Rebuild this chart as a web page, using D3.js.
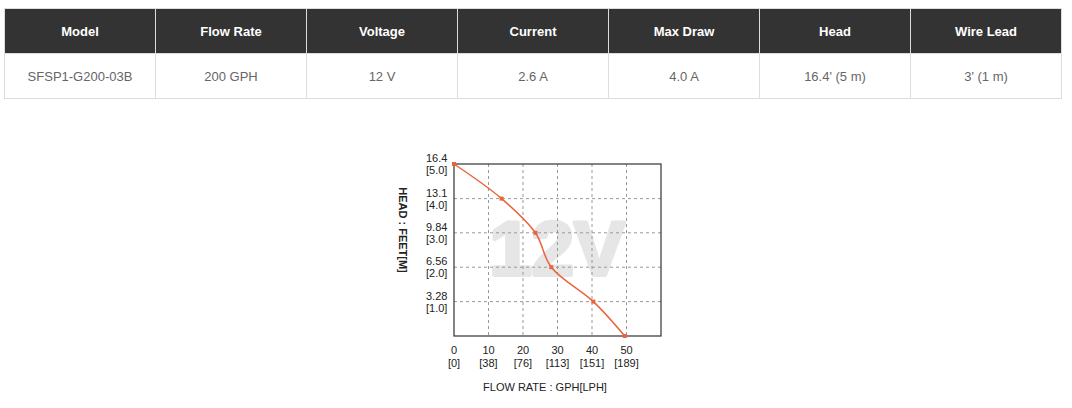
<!DOCTYPE html>
<html>
<head>
<meta charset="UTF-8">
<script src="https://d3js.org/d3.v7.min.js"></script>
<style>
body { margin: 0; background: #fff; font-family: "Liberation Sans", Arial, sans-serif; }
table { position: absolute; left: 4px; top: 8px; width: 1058px; border-collapse: collapse; table-layout: fixed; }
th { background: #333; color: #fff; font-size: 13px; font-weight: bold; height: 44px; padding: 0; border: 1px solid #ddd; }
td { color: #666; font-size: 13px; text-align: center; height: 44px; padding: 0; border: 1px solid #ddd; }
svg { position: absolute; left: 0; top: 0; font-family: "Liberation Sans", Arial, sans-serif; }
</style>
</head>
<body>
<table id="spec"></table>
<svg width="1072" height="408"></svg>
<script>
var headers = ["Model", "Flow Rate", "Voltage", "Current", "Max Draw", "Head", "Wire Lead"];
var values = ["SFSP1-G200-03B", "200 GPH", "12 V", "2.6 A", "4.0 A", "16.4' (5 m)", "3' (1 m)"];

var flowGph = [0, 13.8, 23.6, 28.2, 40.4, 49.5];
var headFt = [16.4, 13.1, 9.84, 6.56, 3.28, 0];
var xTicks = [0, 10, 20, 30, 40, 50];
var xTickLph = ["[0]", "[38]", "[76]", "[113]", "[151]", "[189]"];
var yTicks = [16.4, 13.1, 9.84, 6.56, 3.28];
var yTickM = ["[5.0]", "[4.0]", "[3.0]", "[2.0]", "[1.0]"];

var t = d3.select("#spec");
t.append("tr").selectAll("th").data(headers).enter().append("th").text(d => d);
t.append("tr").selectAll("td").data(values).enter().append("td").text(d => d);

var svg = d3.select("svg");
var x = d3.scaleLinear().domain([0, 60]).range([454, 661]);
var y = d3.scaleLinear().domain([0, 16.4]).range([336, 164]);

svg.append("text").attr("x", 557).attr("y", 275).attr("text-anchor", "middle")
  .attr("font-size", 76).attr("font-weight", "bold").attr("fill", "#e6e6e6")
  .attr("stroke", "#e6e6e6").attr("stroke-width", 4).attr("stroke-linejoin", "round").text("12V");

var g = svg.append("g");
g.selectAll(".vg").data(xTicks.slice(1)).enter().append("line")
  .attr("x1", d => x(d)).attr("x2", d => x(d)).attr("y1", y(16.4)).attr("y2", y(0))
  .attr("stroke", "#999").attr("stroke-dasharray", "3,3");
g.selectAll(".hg").data(yTicks.slice(1)).enter().append("line")
  .attr("y1", d => y(d)).attr("y2", d => y(d)).attr("x1", x(0)).attr("x2", x(60))
  .attr("stroke", "#999").attr("stroke-dasharray", "3,3");
g.append("rect").attr("x", x(0)).attr("y", y(16.4)).attr("width", x(60) - x(0))
  .attr("height", y(0) - y(16.4)).attr("fill", "none").attr("stroke", "#333").attr("stroke-width", 1.2);

var pts = flowGph.map((f, i) => [f, headFt[i]]);
g.append("path").datum(pts)
  .attr("d", d3.line().x(d => x(d[0])).y(d => y(d[1])).curve(d3.curveCatmullRom))
  .attr("fill", "none").attr("stroke", "#e8643c").attr("stroke-width", 1.5);
g.selectAll(".pt").data(pts).enter().append("rect")
  .attr("x", d => x(d[0]) - 2).attr("y", d => y(d[1]) - 2).attr("width", 4).attr("height", 4)
  .attr("fill", "#e8643c");

var lab = svg.append("g").attr("font-size", 11).attr("fill", "#222");
yTicks.forEach(function(v, i) {
  var tx = lab.append("text").attr("x", 426).attr("y", y(v) - 2);
  tx.append("tspan").attr("x", 426).text(v);
  tx.append("tspan").attr("x", 426).attr("dy", 12).text(yTickM[i]);
});
xTicks.forEach(function(v, i) {
  lab.append("text").attr("x", x(v)).attr("y", 354).attr("text-anchor", "middle").text(v);
  lab.append("text").attr("x", x(v)).attr("y", 367).attr("text-anchor", "middle").text(xTickLph[i]);
});
lab.append("text").attr("x", 545).attr("y", 391).attr("text-anchor", "middle").text("FLOW RATE : GPH[LPH]");
lab.append("text").attr("transform", "translate(399,230) rotate(90)").attr("text-anchor", "middle")
  .attr("font-weight", "bold").text("HEAD : FEET[M]");
</script>
</body>
</html>
